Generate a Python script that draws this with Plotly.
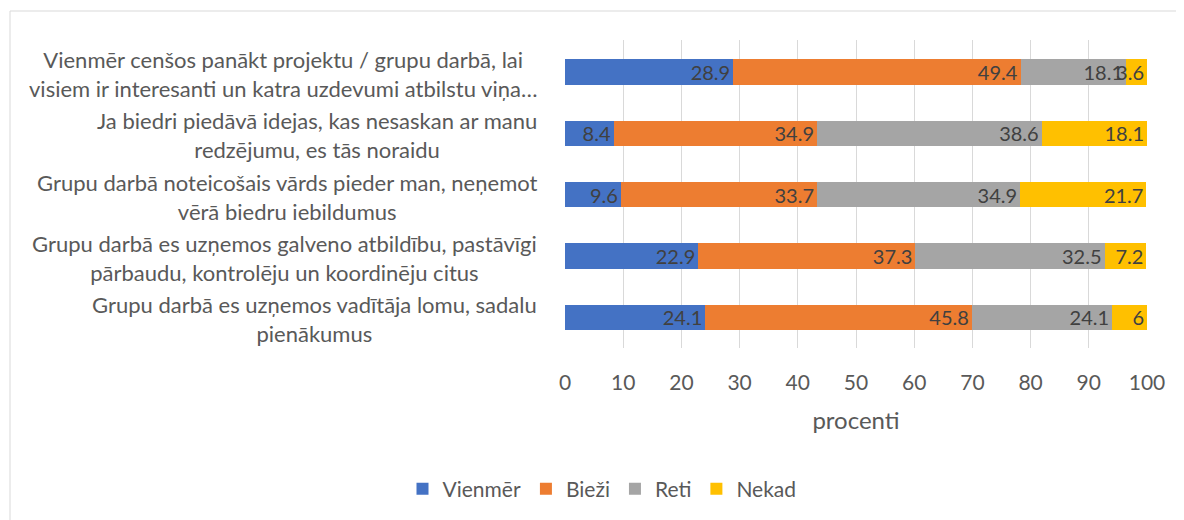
import plotly.graph_objects as go

categories = [
    "Vienmēr cenšos panākt projektu / grupu darbā, lai<br>visiem ir interesanti un katra uzdevumi atbilstu viņa…",
    "Ja biedri piedāvā idejas, kas nesaskan ar manu<br>redzējumu, es tās noraidu",
    "Grupu darbā noteicošais vārds pieder man, neņemot<br>vērā biedru iebildumus",
    "Grupu darbā es uzņemos galveno atbildību, pastāvīgi<br>pārbaudu, kontrolēju un koordinēju citus",
    "Grupu darbā es uzņemos vadītāja lomu, sadalu<br>pienākumus",
]
series_names = ["Vienmēr", "Bieži", "Reti", "Nekad"]
vienmer = [28.9, 8.4, 9.6, 22.9, 24.1]
biezi = [49.4, 34.9, 33.7, 37.3, 45.8]
reti = [18.1, 38.6, 34.9, 32.5, 24.1]
nekad = [3.6, 18.1, 21.7, 7.2, 6]
x_ticks = [0, 10, 20, 30, 40, 50, 60, 70, 80, 90, 100]
x_title = "procenti"

colors = ["#4472C4", "#ED7D31", "#A5A5A5", "#FFC000"]
FONT = "Lato, 'Open Sans', sans-serif"
TXT = "#595959"

W, H = 1176, 512
L, T, PW, PH = 557, 32, 582, 308

fig = go.Figure()
ycats = list(range(len(categories)))
for name, vals, col in zip(series_names, [vienmer, biezi, reti, nekad], colors):
    fig.add_trace(go.Bar(
        name=name, x=vals, y=ycats, orientation="h",
        marker=dict(color=col, line=dict(width=0)),
        text=[f"{v:g}" for v in vals],
        textposition="inside", insidetextanchor="end", textangle=0,
        textfont=dict(color="#404040", size=20, family=FONT),
        cliponaxis=False,
    ))

for i, c in enumerate(categories):
    fig.add_annotation(
        x=0, y=i, xref="paper", yref="y", text=c, showarrow=False,
        xanchor="right", yanchor="middle", align="center", xshift=-26, yshift=-2,
        font=dict(size=22, color=TXT, family=FONT),
    )

# chart border
fig.add_shape(type="rect", xref="paper", yref="paper",
              x0=(2 - L) / PW, x1=(W + 20 - L) / PW,
              y0=(T + PH - H - 20) / PH, y1=(T + PH - 3) / PH,
              line=dict(color="#D9D9D9", width=1), fillcolor="rgba(0,0,0,0)", layer="below")

fig.update_layout(
    barmode="stack",
    bargap=0.59,
    width=W, height=H,
    margin=dict(l=L, r=W - L - PW, t=T, b=H - T - PH),
    paper_bgcolor="white", plot_bgcolor="white",
    font=dict(family=FONT, color=TXT),
    uniformtext=dict(minsize=20, mode="show"),
    legend=dict(orientation="h", xref="container", x=594 / W, xanchor="center",
                yref="container", y=1 - 481 / H, yanchor="middle",
                font=dict(size=21, color=TXT, family=FONT), traceorder="normal",
                itemwidth=30),
    xaxis=dict(range=[0, 100], tickvals=x_ticks, showgrid=True, gridcolor="#D9D9D9",
               gridwidth=1, zeroline=False, showline=False,
               ticks="", ticklabelstandoff=20,
               tickfont=dict(size=21, color=TXT, family=FONT),
               title=dict(text=x_title, font=dict(size=24, color=TXT, family=FONT), standoff=19)),
    yaxis=dict(autorange="reversed", showticklabels=False, showgrid=False,
               zeroline=False, showline=False),
)

fig.write_html("out.html")
